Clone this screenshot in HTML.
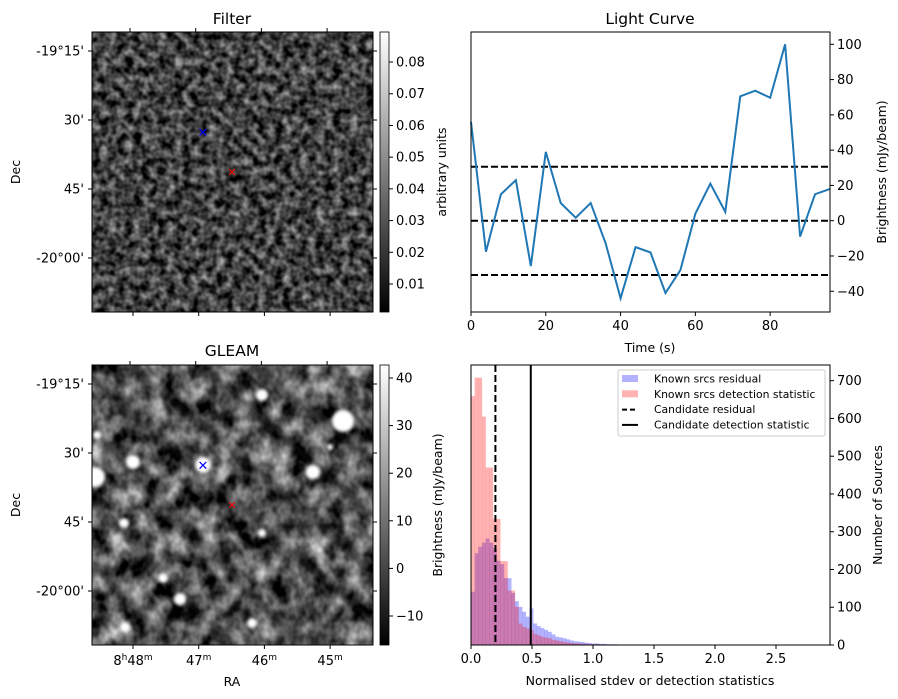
<!DOCTYPE html>
<html><head><meta charset="utf-8"><style>
body{margin:0;background:#fff;}
svg{display:block;font-family:"DejaVu Sans","Liberation Sans",sans-serif;}
</style></head><body>
<svg id="fig" width="898" height="699" viewBox="0 0 898 699">
<defs>
<filter id="noiseA" x="0" y="0" width="100%" height="100%" color-interpolation-filters="sRGB">
<feTurbulence type="fractalNoise" baseFrequency="0.12" numOctaves="2" seed="3"/>
<feColorMatrix type="matrix" values="1.05 0 0 0 -0.27  1.05 0 0 0 -0.27  1.05 0 0 0 -0.27  0 0 0 0 1"/>
</filter>
<filter id="noiseB" x="0" y="0" width="100%" height="100%" color-interpolation-filters="sRGB">
<feTurbulence type="fractalNoise" baseFrequency="0.055 0.045" numOctaves="3" seed="7"/>
<feColorMatrix type="matrix" values="1.4 0 0 0 -0.37  1.4 0 0 0 -0.37  1.4 0 0 0 -0.37  0 0 0 0 1"/>
</filter>
<filter id="blurB"><feGaussianBlur stdDeviation="1.6"/></filter>
<filter id="blurC"><feGaussianBlur stdDeviation="3"/></filter>
<linearGradient id="cbar" x1="0" y1="1" x2="0" y2="0"><stop offset="0" stop-color="#000"/><stop offset="1" stop-color="#fff"/></linearGradient>
<clipPath id="clipA"><rect x="92" y="32" width="281" height="280"/></clipPath>
<clipPath id="clipB"><rect x="92" y="365" width="281" height="280"/></clipPath>
</defs>

<g>
<text x="232" y="24" font-size="15.5" text-anchor="middle">Filter</text>
<g clip-path="url(#clipA)">
<rect x="92" y="32" width="281" height="280" fill="#333" filter="url(#noiseA)"/>
</g>
<rect x="92" y="32" width="281" height="280" fill="none" stroke="#000" stroke-width="1"/>
<text x="203" y="137" font-size="13" fill="#0000ff" text-anchor="middle">✕</text>
<text x="232" y="176" font-size="11" fill="#ff0000" text-anchor="middle">✕</text>
<g id="filterTicks"></g>
<text x="20" y="172" font-size="12.5" text-anchor="middle" transform="rotate(-90 20 172)">Dec</text>
<rect x="380" y="32" width="9" height="280" fill="url(#cbar)" stroke="#000" stroke-width="0.8"/>
<g id="cbarA"></g>
<text x="446" y="172" font-size="12.5" text-anchor="middle" transform="rotate(-90 446 172)">arbitrary units</text>
</g>

<g>
<text x="232" y="356" font-size="15.5" text-anchor="middle">GLEAM</text>
<g clip-path="url(#clipB)">
<rect x="92" y="365" width="281" height="280" fill="#444" filter="url(#noiseB)"/>
<g stroke="#0a0a0a" stroke-width="6" opacity="0.5" filter="url(#blurC)">
<line x1="92" y1="380" x2="372" y2="620"/><line x1="92" y1="430" x2="300" y2="645"/>
<line x1="130" y1="365" x2="372" y2="570"/><line x1="92" y1="500" x2="230" y2="645"/>
<line x1="200" y1="365" x2="372" y2="515"/><line x1="250" y1="365" x2="372" y2="460"/>
<line x1="92" y1="560" x2="170" y2="645"/>
</g>
<g fill="#fff" filter="url(#blurB)">
<circle cx="262" cy="395" r="6"/><circle cx="343" cy="421" r="11"/><circle cx="133" cy="462" r="7"/>
<circle cx="203" cy="465" r="8"/><circle cx="95" cy="477" r="10"/><circle cx="313" cy="472" r="7"/>
<circle cx="124" cy="523" r="5"/><circle cx="163" cy="578" r="5"/><circle cx="180" cy="599" r="6"/>
<circle cx="252" cy="623" r="5"/><circle cx="125" cy="627" r="5"/><circle cx="97" cy="435" r="4"/>
<circle cx="330" cy="447" r="3"/><circle cx="262" cy="533" r="4"/>
</g>
</g>
<rect x="92" y="365" width="281" height="280" fill="none" stroke="#000" stroke-width="1"/>
<text x="203" y="470" font-size="13" fill="#0000ff" text-anchor="middle">✕</text>
<text x="232" y="509" font-size="11" fill="#ff0000" text-anchor="middle">✕</text>
<g id="gleamTicks"></g>
<text x="20" y="505" font-size="12.5" text-anchor="middle" transform="rotate(-90 20 505)">Dec</text>
<text x="232" y="686" font-size="12.5" text-anchor="middle">RA</text>
<rect x="380" y="365" width="9" height="280" fill="url(#cbar)" stroke="#000" stroke-width="0.8"/>
<g id="cbarB"></g>
</g>

<g id="lc"></g>
<g id="hist"></g>
</svg>
<script>
// ---- Light curve data ----
const lcTimes = [0,4,8,12,16,20,24,28,32,36,40,44,48,52,56,60,64,68,72,76,80,84,88,92,96];
const lcValues = [56,-17.6,15,23,-25.7,39,10,1.7,10,-12.8,-44,-15,-18,-41,-28,4,21,5,70.5,73.7,69.7,100,-9,15,18];
const lcThresholds = [30.6,0,-30.8];
const lcXTicks = [0,20,40,60,80];
const lcYTicks = [-40,-20,0,20,40,60,80,100];

// ---- Histogram data (bin width 0.03 from 0) ----
const histBinWidth = 0.03;
const histResidual = [141,243,260,271,282,271,256,223,214,177,177,138,116,101,88,75,97,57,50,45,40,35,28,22,20,18,15,12,10,9,8,6,5,4,4,3,3,2,2,2,1,1,1,1,0,1,0,0,1,0,0,0,1,0,0,0,0,0,0,0,0,0,0,0,0,0,0,0,0,0,0,0,0,0,0,0,0,0,0,0,0,0,0,0,0,0,0,0,0,0,0,0,0,0];
const histDetection = [659,708,708,605,470,470,334,334,222,222,144,144,101,57,48,44,40,30,26,22,20,18,14,12,10,8,7,5,5,4,3,3,2,2,2,1,1,1,0,1,0,0,0,0,1,0,0,0,0,0,0,0,0,1,0,0,1,0,0,0,0,0,0,0,0,0,0,0,0,0,0,0,0,0,0,0,0,0,0,0,0,0,0,0,0,0,0,0,0,0,1,1,0,0];
const candidateResidual = 0.2;
const candidateDetection = 0.49;
const histXTicks = [0.0,0.5,1.0,1.5,2.0,2.5];
const histYTicks = [0,100,200,300,400,500,600,700];
const legendLabels = ["Known srcs residual","Known srcs detection statistic","Candidate residual","Candidate detection statistic"];

// ---- Image axis ticks ----
const decLabels = ["-19°15'","30'","45'","-20°00'"];
const decOffsets = [0,15,30,45];
const raLabels = ["48","47","46","45"];
const raOffsets = [0,1,2,3];
const cbarATicks = [0.01,0.02,0.03,0.04,0.05,0.06,0.07,0.08];
const cbarBTicks = [-10,0,10,20,30,40];

const NS='http://www.w3.org/2000/svg';
function mk(tag, attrs, parent){const e=document.createElementNS(NS,tag);for(const k in attrs)e.setAttribute(k,attrs[k]);parent.appendChild(e);return e;}

function imgTicks(gid, y0, bottom){
  const g=document.getElementById(gid);
  const decY=d=>y0+19+d*4.6;
  decOffsets.forEach((d,i)=>{
    const t=mk('line',{x1:88,x2:92,y1:decY(d),y2:decY(d),stroke:'#000'},g);
    
    
    const r=mk('line',{x1:373,x2:377,y1:decY(d),y2:decY(d),stroke:'#000'},g);
    
    
    const l=mk('text',{x:84,y:decY(d)+4.5,'font-size':13,'text-anchor':'end'},g);
    l.textContent=decLabels[i];
    
    
  });
  const raX=r=>133+r*65.7;
  raOffsets.forEach((r,i)=>{
    const t=mk('line',{x1:raX(r)-3,x2:raX(r)-3,y1:y0-4,y2:y0,stroke:'#000'},g);
    
    
    const b=mk('line',{x1:raX(r),x2:raX(r),y1:y0+280,y2:y0+284,stroke:'#000'},g);
    
    
    if(bottom){
      const l=mk('text',{x:raX(r),y:y0+300,'font-size':13,'text-anchor':'middle'},g);
      
      
      l.innerHTML=(i==0?'8<tspan font-size="9" dy="-5">h</tspan><tspan dy="5">'+raLabels[i]+'</tspan>':raLabels[i])+'<tspan font-size="9" dy="-5">m</tspan>';
    }
  });
}
imgTicks('filterTicks',32,false);
imgTicks('gleamTicks',365,true);

function cbarTicks(gid, ticks, yOf, fmt){
  const g=document.getElementById(gid);
  ticks.forEach(v=>{
    const y=yOf(v);
    const t=mk('line',{x1:389,x2:393,y1:y,y2:y,stroke:'#000'},g);
    
    
    const l=mk('text',{x:396,y:y+4.5,'font-size':13},g);
    l.textContent=fmt(v);
    
    
  });
}
cbarTicks('cbarA',cbarATicks,v=>284-(v-0.01)*3171,v=>v.toFixed(2));
cbarTicks('cbarB',cbarBTicks,v=>568.4-v*4.76,v=>v<0?'\u2212'+(-v):String(v));
{const l=mk('text',{x:442,y:505,'font-size':12.5,'text-anchor':'middle',transform:'rotate(-90 442 505)'},document.getElementById('cbarB'));
l.textContent='Brightness (mJy/beam)';

}

// ---- Light curve ----
(function(){
  const g=document.getElementById('lc');
  
  
  const L=471,R=830,T=32,B=312;
  const x=t=>L+t*(R-L)/96, y=v=>220.7-v*1.764;
  const title=mk('text',{x:650,y:24,'font-size':15.5,'text-anchor':'middle'},g);
  title.textContent='Light Curve';
  
  
  lcThresholds.forEach(v=>{
    const l=mk('line',{x1:L,x2:R,y1:y(v),y2:y(v),stroke:'#000','stroke-width':2,'stroke-dasharray':'7,3'},g);
    
    
  });
  const p=mk('polyline',{points:lcTimes.map((t,i)=>x(t)+','+y(lcValues[i])).join(' '),fill:'none',stroke:'#1f77b4','stroke-width':2},g);
  
  
  const f=mk('rect',{x:L,y:T,width:R-L,height:B-T,fill:'none',stroke:'#000'},g);
  
  
  lcXTicks.forEach(t=>{
    const k=mk('line',{x1:x(t),x2:x(t),y1:B,y2:B+4,stroke:'#000'},g);
    
    
    const l=mk('text',{x:x(t),y:B+18,'font-size':13,'text-anchor':'middle'},g);
    l.textContent=t;
    
    
  });
  lcYTicks.forEach(v=>{
    const k=mk('line',{x1:R,x2:R+4,y1:y(v),y2:y(v),stroke:'#000'},g);
    
    
    const l=mk('text',{x:R+7,y:y(v)+4.5,'font-size':13},g);
    l.textContent=v<0?'\u2212'+(-v):v;
    
    
  });
  const xl=mk('text',{x:650,y:352,'font-size':12.5,'text-anchor':'middle'},g);
  xl.textContent='Time (s)';
  
  
  const yl=mk('text',{x:886,y:172,'font-size':12.5,'text-anchor':'middle',transform:'rotate(-90 886 172)'},g);
  yl.textContent='Brightness (mJy/beam)';
  
  
})();

// ---- Histogram ----
(function(){
  const g=document.getElementById('hist');
  
  
  const L=471,R=830,T=365,B=645;
  const x=v=>L+v*122, y=c=>B-c*0.3776;
  function bars(arr,color,name){
    arr.forEach((c,i)=>{
      if(!c)return;
      const r=mk('rect',{x:x(i*histBinWidth),y:y(c),width:x((i+1)*histBinWidth)-x(i*histBinWidth)+0.2,height:B-y(c),fill:color},g);
      
      
    });
  }
  bars(histResidual,'rgba(0,0,255,0.3)','residual-bar');
  bars(histDetection,'rgba(255,0,0,0.3)','detection-bar');
  const d=mk('line',{x1:x(candidateResidual),x2:x(candidateResidual),y1:T,y2:B,stroke:'#000','stroke-width':2,'stroke-dasharray':'7,3'},g);
  
  
  const s=mk('line',{x1:x(candidateDetection),x2:x(candidateDetection),y1:T,y2:B,stroke:'#000','stroke-width':2},g);
  
  
  const f=mk('rect',{x:L,y:T,width:R-L,height:B-T,fill:'none',stroke:'#000'},g);
  
  
  histXTicks.forEach(v=>{
    const k=mk('line',{x1:x(v),x2:x(v),y1:B,y2:B+4,stroke:'#000'},g);
    
    
    const l=mk('text',{x:x(v),y:B+18,'font-size':13,'text-anchor':'middle'},g);
    l.textContent=v.toFixed(1);
    
    
  });
  histYTicks.forEach(v=>{
    const k=mk('line',{x1:R,x2:R+4,y1:y(v),y2:y(v),stroke:'#000'},g);
    
    
    const l=mk('text',{x:R+7,y:y(v)+4.5,'font-size':13},g);
    l.textContent=v;
    
    
  });
  const xl=mk('text',{x:650,y:685,'font-size':12.5,'text-anchor':'middle'},g);
  xl.textContent='Normalised stdev or detection statistics';
  
  
  const yl=mk('text',{x:882,y:505,'font-size':12.5,'text-anchor':'middle',transform:'rotate(-90 882 505)'},g);
  yl.textContent='Number of Sources';
  
  
  const lg=mk('g',{},g);
  
  
  const box=mk('rect',{x:618,y:370,width:207,height:66,rx:2,fill:'#fff','fill-opacity':0.8,stroke:'#ccc'},lg);
  
  
  legendLabels.forEach((lab,i)=>{
    const yy=379+i*15.3;
    let m;
    if(i==0) m=mk('rect',{x:622,y:yy-4,width:16,height:7,fill:'rgba(0,0,255,0.3)'},lg);
    else if(i==1) m=mk('rect',{x:622,y:yy-4,width:16,height:7,fill:'rgba(255,0,0,0.3)'},lg);
    else m=mk('line',{x1:622,x2:638,y1:yy,y2:yy,stroke:'#000','stroke-width':2,'stroke-dasharray':i==2?'5,3':'none'},lg);
    
    
    const t=mk('text',{x:654,y:yy+3.5,'font-size':10.8},lg);
    t.textContent=lab;
    
    
  });
})();
</script>
</body></html>
